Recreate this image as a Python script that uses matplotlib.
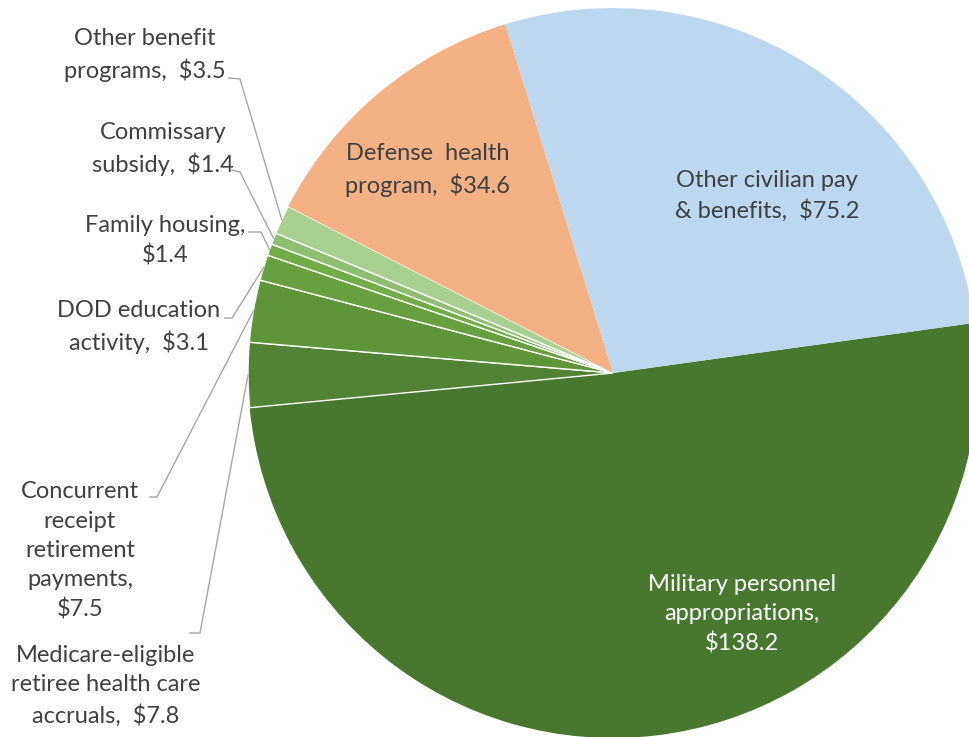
import numpy as np
import matplotlib
matplotlib.use("Agg")
import matplotlib.pyplot as plt

# Data (billions of dollars), clockwise order starting at the right edge
categories = [
    "Military personnel\nappropriations,\n$138.2",
    "Medicare-eligible\nretiree health care\naccruals,  $7.8",
    "Concurrent\nreceipt\nretirement\npayments,\n$7.5",
    "DOD education\nactivity,  $3.1",
    "Family housing,\n$1.4",
    "Commissary\nsubsidy,  $1.4",
    "Other benefit\nprograms,  $3.5",
    "Defense  health\nprogram,  $34.6",
    "Other civilian pay\n& benefits,  $75.2",
]
values = [138.2, 7.8, 7.5, 3.1, 1.4, 1.4, 3.5, 34.6, 75.2]
colors = ["#4A772E", "#548235", "#5E9539", "#66A03F", "#70AD47",
          "#8FBE70", "#A9D08E", "#F4B183", "#BDD7EE"]

W, H = 970, 737
fig = plt.figure(figsize=(W / 100, H / 100), dpi=100)
ax = fig.add_axes([0, 0, 1, 1])

cx, cy, R = 613, H - 373, 365
wedges, _ = ax.pie(values, colors=colors, startangle=7.9, counterclock=False,
                   radius=R, center=(cx, cy),
                   wedgeprops=dict(edgecolor="white", linewidth=1.0))
# the big slices show no white seam between them
for i in (0, 7, 8):
    wedges[i].set_edgecolor("none")
ax.set_xlim(0, W)
ax.set_ylim(0, H)
ax.set_aspect("equal")
ax.axis("off")

font = dict(family="Lato", fontsize=17, color="#404040", ha="center",
            va="center", linespacing=1.48)

# inside labels: (x, y) in pixel coords from top-left
inside = {0: (742, 614), 7: (428, 170), 8: (767, 196)}
for i, (x, y) in inside.items():
    kw = dict(font)
    if i == 0:
        kw["color"] = "white"
    ax.text(x, H - y, categories[i], **kw)

# outside labels: text centre, then leader start (text end) and elbow
outside = {
    1: ((106, 686), (200, 633), (190, 633)),
    2: ((80, 551), (157, 497), (150, 497)),
    3: ((139, 327), (232, 318), (225, 318)),
    4: ((165, 241), (261, 232), (249, 232)),
    5: ((163, 149), (240, 172), (232, 170)),
    6: ((145, 55), (240, 79), (229, 78)),
}
for i, ((tx, ty), (ex, ey), (sx, sy)) in outside.items():
    ax.text(tx, H - ty, categories[i], **font)
    w = wedges[i]
    mid = np.deg2rad((w.theta1 + w.theta2) / 2)
    px = cx + R * np.cos(mid)
    py = cy + R * np.sin(mid)
    ax.plot([sx, ex, px], [H - sy, H - ey, py], color="#A6A6A6", lw=1.0,
            solid_joinstyle="miter")

fig.savefig("out.png", dpi=100)
